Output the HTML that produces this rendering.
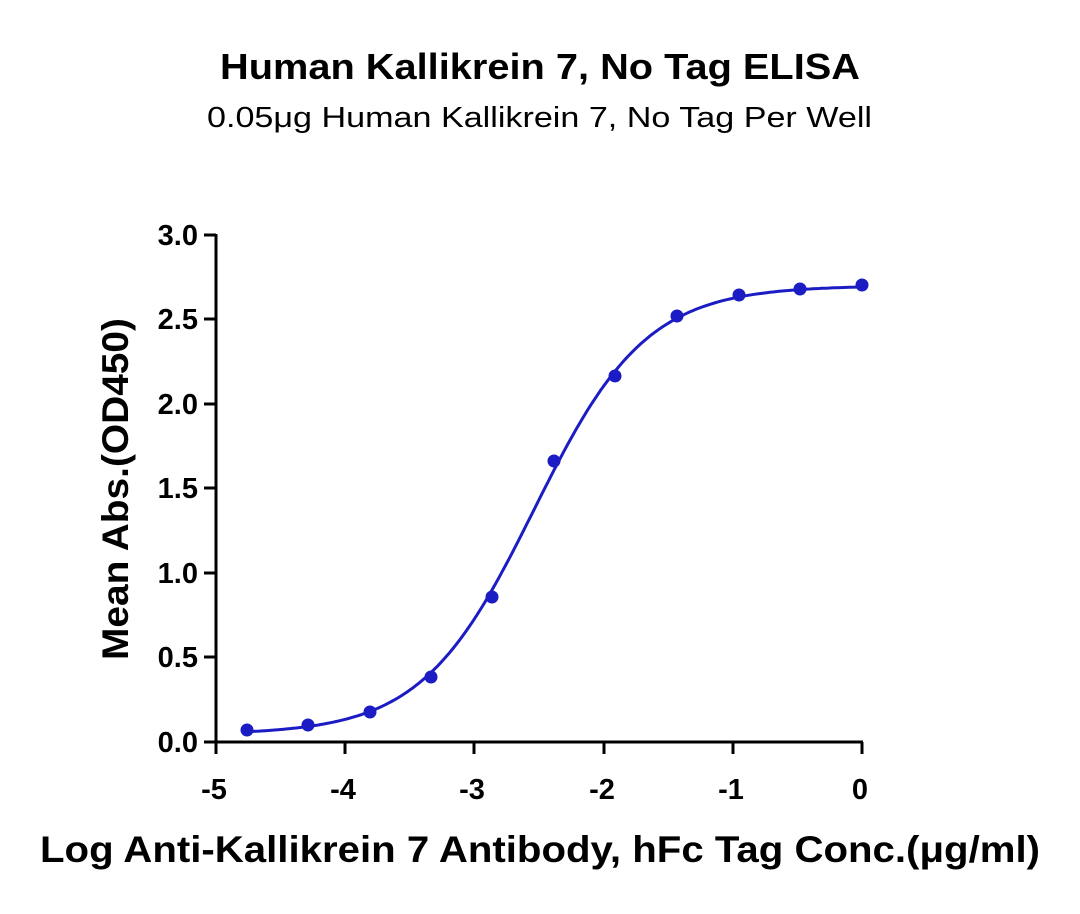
<!DOCTYPE html>
<html><head><meta charset="utf-8"><style>
html,body{margin:0;padding:0;background:#fff;}
svg text{font-family:"Liberation Sans","DejaVu Sans",sans-serif;fill:#000;}
</style></head><body>
<svg width="1080" height="909" viewBox="0 0 1080 909" xmlns="http://www.w3.org/2000/svg">
<text x="220" y="79" font-size="36" font-weight="bold" textLength="640" lengthAdjust="spacingAndGlyphs">Human Kallikrein 7, No Tag ELISA</text>
<text x="207" y="127" font-size="29" textLength="665" lengthAdjust="spacingAndGlyphs">0.05μg Human Kallikrein 7, No Tag Per Well</text>
<g stroke="#000" stroke-width="3" fill="none">
<line x1="216" y1="234" x2="216" y2="743"/>
<line x1="215" y1="742" x2="863" y2="742"/>
<line x1="204" y1="235" x2="216" y2="235"/>
<line x1="204" y1="319" x2="216" y2="319"/>
<line x1="204" y1="404" x2="216" y2="404"/>
<line x1="204" y1="488" x2="216" y2="488"/>
<line x1="204" y1="573" x2="216" y2="573"/>
<line x1="204" y1="657" x2="216" y2="657"/>
<line x1="204" y1="742" x2="216" y2="742"/>
<line x1="216" y1="742" x2="216" y2="754"/>
<line x1="345" y1="742" x2="345" y2="754"/>
<line x1="474" y1="742" x2="474" y2="754"/>
<line x1="604" y1="742" x2="604" y2="754"/>
<line x1="733" y1="742" x2="733" y2="754"/>
<line x1="862" y1="742" x2="862" y2="754"/>
</g>
<g font-size="29" font-weight="bold" text-anchor="end">
<text x="198" y="245">3.0</text><text x="198" y="329">2.5</text><text x="198" y="414">2.0</text>
<text x="198" y="498">1.5</text><text x="198" y="583">1.0</text><text x="198" y="667">0.5</text>
<text x="198" y="752">0.0</text>
</g>
<g font-size="29" font-weight="bold" text-anchor="middle">
<text x="214" y="799">-5</text><text x="343" y="799">-4</text><text x="472" y="799">-3</text>
<text x="602" y="799">-2</text><text x="731" y="799">-1</text><text x="860" y="799">0</text>
</g>
<text x="40" y="862" font-size="37" font-weight="bold" textLength="1000" lengthAdjust="spacingAndGlyphs">Log Anti-Kallikrein 7 Antibody, hFc Tag Conc.(μg/ml)</text>
<text transform="translate(128,660) rotate(-90)" font-size="37" font-weight="bold" textLength="342" lengthAdjust="spacingAndGlyphs">Mean Abs.(OD450)</text>
<path id="curve" fill="none" stroke="#1c1cc4" stroke-width="3"/>
<g fill="#1c1cc4">
<circle cx="247" cy="730" r="6.5"/><circle cx="308" cy="725" r="6.5"/><circle cx="370" cy="712" r="6.5"/>
<circle cx="431" cy="677" r="6.5"/><circle cx="492" cy="597" r="6.5"/><circle cx="554" cy="461" r="6.5"/>
<circle cx="615" cy="376" r="6.5"/><circle cx="677" cy="316" r="6.5"/><circle cx="739" cy="295" r="6.5"/>
<circle cx="800" cy="289" r="6.5"/><circle cx="862" cy="285" r="6.5"/>
</g>
<script>
(function(){var d="";for(var i=0;i<=200;i++){var x=-4.76+4.76*i/200;var v=0.045+2.655/(1+Math.pow(10,(-2.54-x)*1.0));var px=216+(x+5)*129.2,py=742-v*169;d+=(i?"L":"M")+px.toFixed(1)+","+py.toFixed(1);}document.getElementById("curve").setAttribute("d",d);})();
</script>
</svg>
</body></html>
